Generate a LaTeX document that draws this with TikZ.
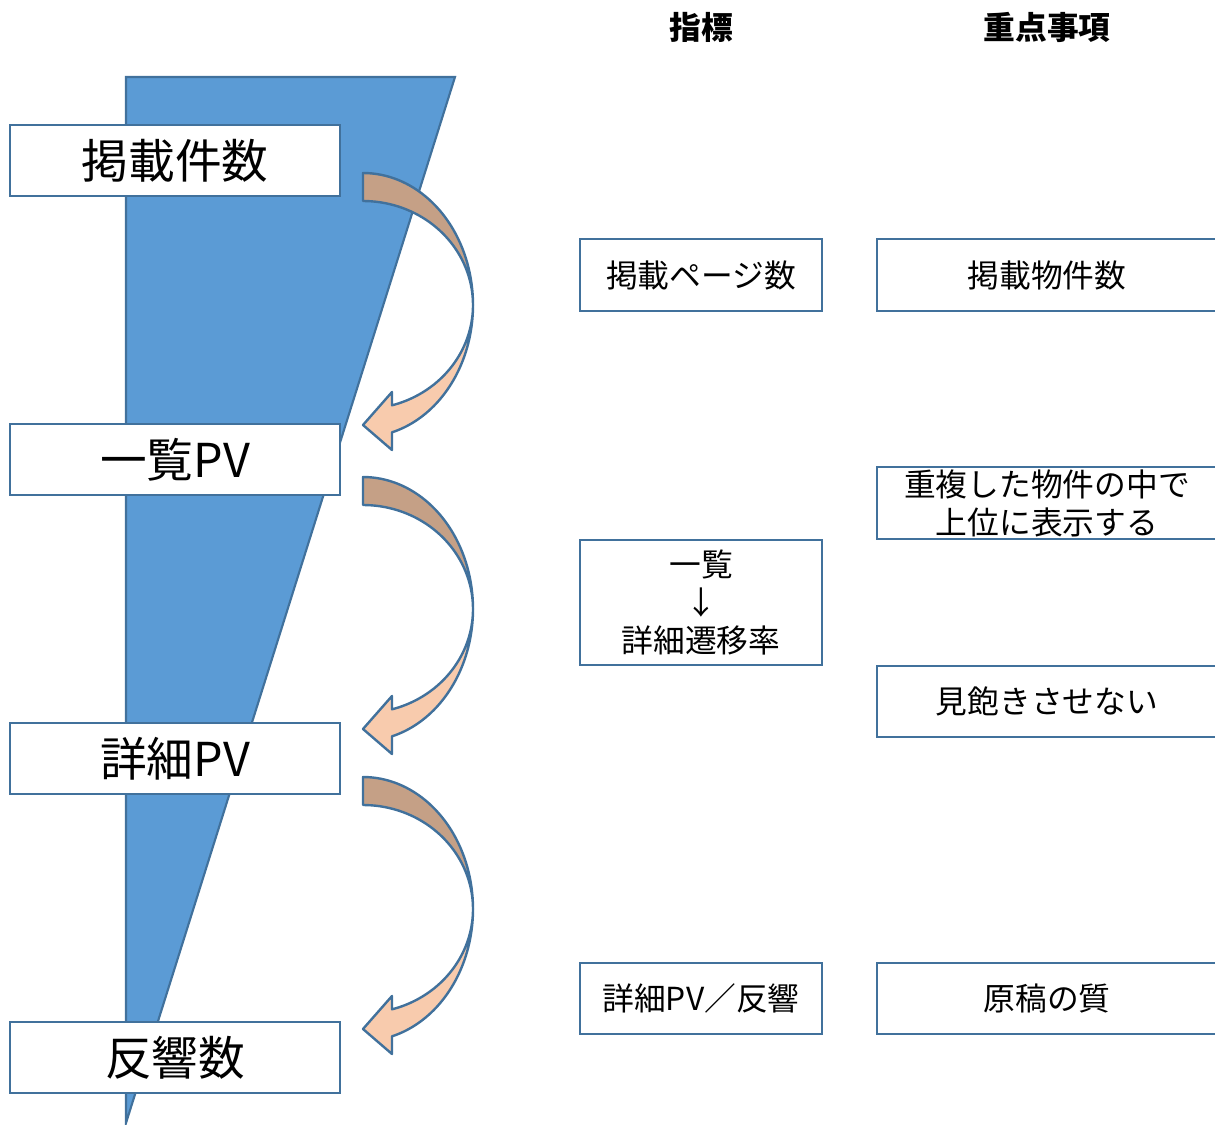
\documentclass[tikz,border=0pt]{standalone}
\usepackage{fontspec}
\setmainfont{Noto Sans CJK JP}
\definecolor{trifill}{HTML}{5B9BD5}
\definecolor{edgeblue}{HTML}{41719C}
\definecolor{darkband}{HTML}{C5A086}
\definecolor{lightband}{HTML}{F8CBAD}
\begin{document}
\begin{tikzpicture}[x=0.75pt,y=-0.75pt,
  box/.style={draw=edgeblue,line width=1.8pt,fill=white,inner sep=0pt,align=center,text=black},
  bigbox/.style={box,minimum width=247.5pt,minimum height=53.25pt,font=\fontsize{35}{42}\selectfont},
  midbox/.style={box,minimum width=181.5pt,minimum height=54pt,font=\fontsize{23.8}{28.5}\selectfont},
  rightbox/.style={box,minimum width=255pt,minimum height=54pt,font=\fontsize{23.8}{28.5}\selectfont},
  header/.style={inner sep=0pt,font=\fontsize{23.8}{28.5}\selectfont\bfseries},
  bandline/.style={draw=edgeblue,line width=1.8pt,line join=round}]
\useasboundingbox (0,0) rectangle (1215,1125);
\clip (0,0) rectangle (1215,1125);
% funnel triangle
\draw[fill=trifill,draw=edgeblue,line width=1.6pt] (126,77) -- (455,77) -- (126,1123) -- cycle;
% left boxes
\node[bigbox] (L1) at (175,160.5) {掲載件数};
\node[bigbox] (L2) at (175,459.5) {一覧PV};
\node[bigbox] (L3) at (175,758.5) {詳細PV};
\node[bigbox] (L4) at (175,1057.5) {反響数};
% curved arrows
\foreach \T in {173,477,777}{
  \pgfmathsetmacro\cy{\T+132}
  \draw[bandline,fill=lightband]
    plot[domain=0:74.7,samples=40] ({363+110*cos(\x)},{\cy+132*sin(\x)})
    -- (392,\T+277) -- (363,\T+252) -- (392,\T+219)
    -- plot[domain=74.7:0,samples=40] ({363+110*cos(\x)},{\cy+104*sin(\x)}) -- cycle;
  \draw[bandline,fill=darkband]
    plot[domain=-90:0,samples=40] ({363+110*cos(\x)},{\cy+132*sin(\x)})
    -- plot[domain=0:-90,samples=40] ({363+110*cos(\x)},{\cy+104*sin(\x)}) -- cycle;
}
% headers
\node[header] (H1) at (701,27) {指標};
\node[header] (H2) at (1047,27) {重点事項};
% middle boxes
\node[midbox] (M1) at (701,275) {掲載ページ数};
\node[midbox,minimum height=93.75pt] (M2) at (701,602.5) {一覧\\↓\\詳細遷移率};
\node[midbox,minimum height=53.25pt] (M3) at (701,998.5) {詳細PV／反響};
% right boxes
\node[rightbox] (R1) at (1047,275) {掲載物件数};
\node[rightbox] (R2) at (1047,503) {重複した物件の中で\\上位に表示する};
\node[rightbox,minimum height=53.25pt] (R3) at (1047,701.5) {見飽きさせない};
\node[rightbox,minimum height=53.25pt] (R4) at (1047,998.5) {原稿の質};
\end{tikzpicture}
\end{document}
